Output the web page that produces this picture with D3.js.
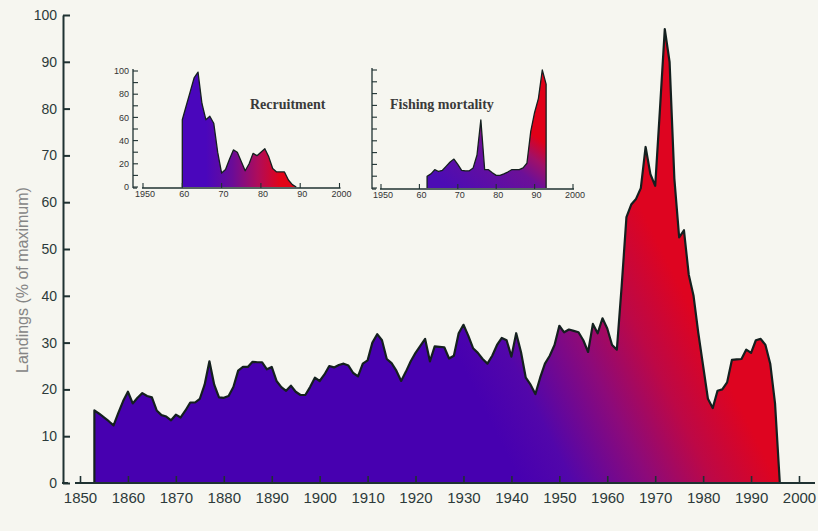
<!DOCTYPE html>
<html>
<head>
<meta charset="utf-8">
<script src="https://cdn.jsdelivr.net/npm/d3@7"></script>
<style>
  html, body { margin: 0; padding: 0; background: #f6f6f0; }
  svg { display: block; }
</style>
</head>
<body>
<svg id="chart" width="818" height="531"></svg>
<script>
// Annual landings, % of the series maximum, starting in 1853
const landingsStart = 1853;
const landings = [
  15.5, 14.8, 14.0, 13.2, 12.3, 15.0, 17.5,                         // 1853-1859
  19.5, 17.0, 18.2, 19.2, 18.6, 18.3, 15.5, 14.5, 14.2, 13.4,       // 1860s
  14.6, 14.0, 15.5, 17.2, 17.2, 18.0, 21.0, 26.0, 21.0, 18.3,       // 1870s
  18.2, 18.6, 20.5, 24.0, 24.8, 24.8, 25.9, 25.8, 25.8, 24.3,       // 1880s
  24.8, 21.8, 20.5, 19.7, 20.8, 19.5, 18.8, 18.8, 20.5, 22.5,       // 1890s
  21.8, 23.2, 25.0, 24.7, 25.2, 25.5, 25.1, 23.5, 22.8, 25.5,       // 1900s
  26.2, 30.0, 31.8, 30.5, 26.5, 25.6, 24.0, 21.8, 23.8, 26.0,       // 1910s
  27.8, 29.3, 30.8, 26.0, 29.2, 29.1, 29.0, 26.6, 27.2, 32.0,       // 1920s
  33.8, 31.5, 28.8, 27.8, 26.5, 25.5, 27.2, 29.5, 31.0, 30.5,       // 1930s
  27.0, 32.0, 28.0, 22.5, 21.0, 19.0, 22.5, 25.5, 27.2, 29.5,       // 1940s
  33.6, 32.2, 32.8, 32.5, 32.2, 30.5, 28.0, 34.0, 32.0, 35.2,       // 1950s
  33.0, 29.5, 28.5, 42.0, 56.8, 59.5, 60.7, 63.0, 71.8, 66.0,       // 1960s
  63.5, 80.0, 97.0, 90.0, 65.0, 52.5, 54.0, 44.5, 40.0, 32.0,       // 1970s
  25.0, 18.0, 16.0, 19.7, 20.0, 21.5, 26.3, 26.4, 26.5, 28.5,       // 1980s
  27.8, 30.5, 30.8, 29.5, 25.5, 17.0, 0                             // 1990-1996
];

// Recruitment index, 1960 onwards
const recruitStart = 1960;
const recruitment = [
  58, 70, 82, 94, 99, 72, 58, 61, 55, 30,
  12, 15, 24, 32, 30, 22, 14, 20, 29, 27,
  30, 33, 26, 16, 13, 13, 13, 6, 2, 0
];

// Fishing mortality index, 1962 onwards
const fishingStart = 1962;
const fishing = [
  10, 12, 15.5, 14, 15, 18.5, 22, 24.5,
  20, 15, 14.5, 14.6, 17, 28, 57.7, 15.5, 15.5, 13,
  10.7, 10.7, 12, 13.5, 15.5, 15.5, 15.5, 17, 21, 48,
  64, 76, 100, 88
];

const mainXTicks = [1850, 1860, 1870, 1880, 1890, 1900, 1910, 1920, 1930, 1940, 1950, 1960, 1970, 1980, 1990, 2000];
const mainYTicks = [0, 10, 20, 30, 40, 50, 60, 70, 80, 90, 100];
const insetXTicks = [1950, 1960, 1970, 1980, 1990, 2000];
const insetXLabels = ["1950", "60", "70", "80", "90", "2000"];
const insetYTicks = [0, 10, 20, 30, 40, 50, 60, 70, 80, 90, 100];
const recruitYLabels = [0, 20, 40, 60, 80, 100];

const toSeries = (start, vals) => vals.map((v, i) => ({ year: start + i, value: v }));

const svg = d3.select("#chart");
svg.append("rect").attr("width", 818).attr("height", 531).attr("fill", "#f6f6f0");
const defs = svg.append("defs");

function makeGradient(id, p1, p2, stops) {
  const g = defs.append("linearGradient")
    .attr("id", id)
    .attr("gradientUnits", "userSpaceOnUse")
    .attr("x1", p1[0]).attr("y1", p1[1])
    .attr("x2", p2[0]).attr("y2", p2[1]);
  stops.forEach(([o, c]) => g.append("stop").attr("offset", o).attr("stop-color", c));
}

const inkColor = "#14201f";
const axisColor = "#1f3232";
const labelColor = "#2c3a3a";

// ---------- main landings chart ----------
const x = d3.scaleLinear().domain([1850, 2000]).range([80, 799]);
const y = d3.scaleLinear().domain([0, 100]).range([483, 15]);

makeGradient("landGrad", [x(1942), y(0)], [x(1985), y(22)], [
  [0, "#4700b0"], [0.2, "#5206aa"], [0.5, "#8c0a7a"], [0.75, "#bd0846"], [1, "#de0420"]
]);

const landData = toSeries(landingsStart, landings);
const area = d3.area().x(d => x(d.year)).y0(y(0)).y1(d => y(d.value));
const outline = d3.line().x(d => x(d.year)).y(d => y(d.value));

svg.append("path").datum(landData).attr("d", area).attr("fill", "url(#landGrad)");
svg.append("path")
  .datum([{ year: landingsStart, value: 0 }, ...landData])
  .attr("d", outline)
  .attr("fill", "none").attr("stroke", inkColor).attr("stroke-width", 2.2)
  .attr("stroke-linejoin", "round");

// y axis with inward ticks
const yAxis = svg.append("g").attr("transform", `translate(63,0)`)
  .call(d3.axisLeft(y).tickValues(mainYTicks).tickSize(-7).tickSizeOuter(0).tickPadding(6));
yAxis.select(".domain").attr("stroke", axisColor).attr("stroke-width", 2);
yAxis.selectAll(".tick line").attr("stroke", axisColor).attr("stroke-width", 2);
yAxis.selectAll(".tick text").attr("fill", labelColor)
  .style("font-family", "'Liberation Sans', Arial, sans-serif").style("font-size", "14px");
svg.append("line").attr("x1", 62).attr("x2", 68).attr("y1", y(0)).attr("y2", y(0))
  .attr("stroke", axisColor).attr("stroke-width", 2);

// x axis with inward ticks
const xAxis = svg.append("g").attr("transform", `translate(0,${y(0)})`)
  .call(d3.axisBottom(x).tickValues(mainXTicks).tickFormat(d3.format("d")).tickSize(-7).tickSizeOuter(0).tickPadding(9));
xAxis.select(".domain").remove();
xAxis.selectAll(".tick line").attr("stroke", axisColor).attr("stroke-width", 1.6);
xAxis.selectAll(".tick text").attr("fill", labelColor)
  .style("font-family", "'Liberation Sans', Arial, sans-serif").style("font-size", "15px");
svg.append("line").attr("x1", 75).attr("x2", 815).attr("y1", y(0)).attr("y2", y(0))
  .attr("stroke", axisColor).attr("stroke-width", 2.2);

svg.append("text")
  .attr("transform", "translate(22,280) rotate(-90)")
  .attr("text-anchor", "middle").attr("dominant-baseline", "central")
  .attr("fill", "#858585")
  .style("font-family", "'Liberation Sans', Arial, sans-serif").style("font-size", "16px")
  .text("Landings (% of maximum)");

// ---------- inset panels ----------
function drawInset(cfg) {
  const xs = d3.scaleLinear().domain([1950, 2000]).range(cfg.xRange);
  const ys = d3.scaleLinear().domain([0, 100]).range(cfg.yRange);
  const data = toSeries(cfg.start, cfg.values);
  const last = data[data.length - 1];

  makeGradient(cfg.gradId, [xs(cfg.grad[0][0]), ys(cfg.grad[0][1])],
               [xs(cfg.grad[1][0]), ys(cfg.grad[1][1])], cfg.stops);

  const g = svg.append("g");
  g.append("path").datum(data)
    .attr("d", d3.area().x(d => xs(d.year)).y0(ys(0)).y1(d => ys(d.value)))
    .attr("fill", `url(#${cfg.gradId})`);
  g.append("path")
    .datum([{ year: cfg.start, value: 0 }, ...data, { year: last.year, value: 0 }])
    .attr("d", d3.line().x(d => xs(d.year)).y(d => ys(d.value)))
    .attr("fill", "none").attr("stroke", inkColor).attr("stroke-width", 1.3)
    .attr("stroke-linejoin", "round");

  // y axis
  const ax = cfg.yAxisX;
  g.append("line").attr("x1", ax).attr("x2", ax).attr("y1", ys(100) - 2).attr("y2", ys(0) + 1)
    .attr("stroke", axisColor).attr("stroke-width", 1.3);
  g.append("line").attr("x1", ax).attr("x2", ax + 4).attr("y1", ys(0) + 1).attr("y2", ys(0) + 1)
    .attr("stroke", axisColor).attr("stroke-width", 1.3);
  g.selectAll(".yt").data(insetYTicks).join("line")
    .attr("x1", ax).attr("x2", ax + 5)
    .attr("y1", d => ys(d)).attr("y2", d => ys(d))
    .attr("stroke", axisColor).attr("stroke-width", 1.1);
  if (cfg.yLabels) {
    g.selectAll(".yl").data(cfg.yLabels).join("text")
      .attr("x", ax - 4).attr("y", d => ys(d)).attr("dy", "0.35em")
      .attr("text-anchor", "end").attr("fill", "#333")
      .style("font-family", "'Liberation Sans', Arial, sans-serif").style("font-size", "9px")
      .text(d => d);
  }

  // x axis
  g.append("line").attr("x1", xs(1950) - 1).attr("x2", xs(2000) + 1)
    .attr("y1", ys(0) + 1).attr("y2", ys(0) + 1)
    .attr("stroke", axisColor).attr("stroke-width", 1.3);
  g.selectAll(".xt").data(insetXTicks).join("line")
    .attr("x1", d => xs(d)).attr("x2", d => xs(d))
    .attr("y1", ys(0) + 1).attr("y2", ys(0) - 4)
    .attr("stroke", axisColor).attr("stroke-width", 1.1);
  g.selectAll(".xl").data(insetXTicks).join("text")
    .attr("x", d => xs(d) + 2).attr("y", ys(0) + 10)
    .attr("text-anchor", "middle").attr("fill", "#333")
    .style("font-family", "'Liberation Sans', Arial, sans-serif").style("font-size", "9px")
    .text((d, i) => insetXLabels[i]);

  g.append("text")
    .attr("x", cfg.titlePos[0]).attr("y", cfg.titlePos[1])
    .attr("fill", "#3a3a3a")
    .style("font-family", "'Liberation Serif', 'Times New Roman', serif")
    .style("font-size", "14px").style("font-weight", "bold")
    .text(cfg.title);
}

drawInset({
  title: "Recruitment", titlePos: [250, 109],
  start: recruitStart, values: recruitment,
  xRange: [143, 339.5], yRange: [187, 71], yAxisX: 133,
  yLabels: recruitYLabels, gradId: "recGrad",
  grad: [[1966, 0], [1985, 0]],
  stops: [[0, "#4a06bc"], [0.35, "#6a0c98"], [0.7, "#b00c5a"], [1, "#e20418"]]
});

drawInset({
  title: "Fishing mortality", titlePos: [390, 109],
  start: fishingStart, values: fishing,
  xRange: [381, 573], yRange: [188, 70], yAxisX: 372,
  yLabels: null, gradId: "fishGrad",
  grad: [[1965, 7], [1980, 70]],
  stops: [[0, "#4c0cb4"], [0.6, "#6c1098"], [0.8, "#a01068"], [1, "#e00018"]]
});
</script>
</body>
</html>
